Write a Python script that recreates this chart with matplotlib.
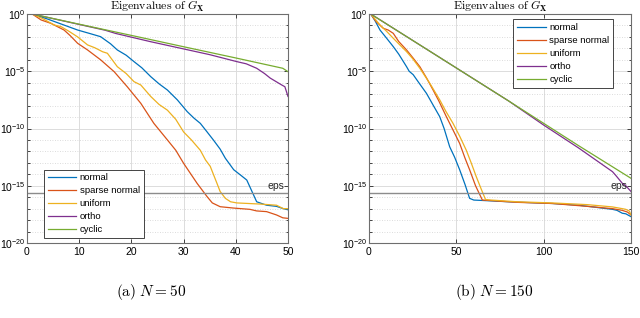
import numpy as np
import matplotlib
matplotlib.use("Agg")
import matplotlib.pyplot as plt
from matplotlib.ticker import FuncFormatter

plt.rcParams['font.family'] = ['Liberation Sans', 'DejaVu Sans']
plt.rcParams['mathtext.fontset'] = 'custom'
plt.rcParams['mathtext.rm'] = 'Liberation Sans'
plt.rcParams['mathtext.it'] = 'Liberation Sans:italic'
plt.rcParams['mathtext.bf'] = 'Liberation Sans:bold'

labels = ["normal", "sparse normal", "uniform", "ortho", "cyclic"]
colors = ["#0072BD", "#D95319", "#EDB120", "#7E2F8E", "#77AC30"]
eps_value = 2.22e-16

# ---- N = 50 (values given as log10 of eigenvalue) ----
a_normal_x = [1, 4, 7, 9.7, 12, 14.1, 16, 17.3, 19, 20.5, 22, 23.7, 25.3, 26.9, 28.8, 30.7, 32, 33.2,
              34.5, 35.7, 37, 38, 39.6, 41, 42.1, 43.4, 44, 45.9, 47.8, 49.1, 50]
a_normal_y = [0, -0.45, -0.95, -1.4, -1.7, -1.98, -2.6, -3.14, -3.6, -4.16, -4.7, -5.47, -6.1, -6.64,
              -7.5, -8.53, -9.1, -9.55, -10.3, -11.0, -11.8, -12.6, -13.6, -14.1, -14.5, -15.8, -16.4,
              -16.7, -16.8, -17.0, -17.1]
a_sparse_x = [1, 2.7, 4.6, 7.1, 8.3, 9.7, 11.6, 14.1, 16.7, 19.2, 21.8, 24.3, 26.9, 28.5, 30, 32.6,
              34.5, 35.5, 37, 39.6, 42.7, 44, 45.9, 47.8, 49, 50]
a_sparse_y = [0, -0.52, -0.82, -1.4, -1.9, -2.56, -3.14, -4.0, -5.04, -6.35, -7.8, -9.55, -11.0, -11.9,
              -13.04, -14.8, -15.95, -16.5, -16.83, -16.95, -17.06, -17.2, -17.26, -17.55, -17.8, -17.85]
a_uniform_x = [1, 3, 5.2, 6.5, 8, 9.7, 11.6, 13, 14.5, 15.4, 17.3, 19, 20.5, 21.8, 23.7, 25.3, 26.9,
               28.5, 30, 31.5, 33.2, 34.2, 35.1, 36.4, 37, 38, 39, 40.2, 44.7, 47.8, 49.1, 50]
a_uniform_y = [0, -0.4, -0.96, -1.1, -1.5, -2.0, -2.7, -2.95, -3.3, -3.43, -4.6, -5.2, -5.91, -6.2,
               -7.2, -7.9, -8.4, -9.2, -10.3, -11.0, -11.9, -12.75, -13.3, -14.8, -15.5, -16.1, -16.4,
               -16.5, -16.6, -16.7, -17.0, -17.0]
a_ortho_x = [1, 15, 17, 23.7, 30, 35, 40.2, 42, 44, 45.5, 46.6, 48.8, 49.4, 50]
a_ortho_y = [0, -1.42, -1.7, -2.42, -3.05, -3.55, -4.16, -4.35, -4.74, -5.2, -5.6, -6.2, -6.35, -7.2]
a_cyclic_x = [1, 10, 20, 30, 40, 49, 50]
a_cyclic_y = [0, -0.89, -1.87, -2.86, -3.84, -4.74, -5.04]

# ---- N = 150 ----
b_normal_x = [1, 3.5, 6.3, 10, 13.9, 17, 21.5, 23, 25.3, 29, 32.9, 36.5, 40.5, 43, 46.2, 49, 51.9, 55,
              57.6, 60, 67, 80, 105, 120, 139.4, 142, 145, 147, 150]
b_normal_y = [0, -0.6, -1.4, -2.1, -2.85, -3.5, -4.6, -5.0, -5.3, -6.1, -6.93, -7.9, -8.97, -10.0,
              -11.6, -12.5, -13.6, -14.9, -16.1, -16.25, -16.3, -16.4, -16.55, -16.7, -17.06, -17.15,
              -17.4, -17.45, -17.7]
b_sparse_x = [1, 4, 8.2, 11, 13.9, 17, 21.5, 25, 29.1, 33, 36.7, 40, 44.3, 48, 51.9, 55, 57.6, 61,
              64.9, 70, 85, 105, 125, 139.4, 145, 148, 150]
b_sparse_y = [0, -0.65, -1.25, -1.4, -1.69, -2.4, -3.14, -3.8, -4.6, -5.6, -6.64, -7.6, -8.97, -10.1,
              -11.3, -12.6, -13.6, -15.0, -16.25, -16.3, -16.45, -16.55, -16.8, -17.0, -17.15, -17.3,
              -17.55]
b_uniform_x = [1, 6.3, 10, 13.9, 17, 21.5, 25, 29.1, 35, 40.5, 44, 48.1, 52, 55.7, 58.5, 61.4, 64,
               66.7, 70, 85, 105, 125, 139.4, 145, 147, 149, 150]
b_uniform_y = [0, -0.96, -1.5, -2.12, -2.6, -3.29, -3.9, -4.74, -6.1, -7.5, -8.5, -9.55, -10.7, -11.9,
               -13.0, -14.2, -15.2, -16.2, -16.25, -16.4, -16.5, -16.65, -16.85, -17.0, -17.06, -17.2,
               -17.55]
b_ortho_x = [1, 40, 80, 100, 120, 139.4, 141.3, 145.1, 147, 150]
b_ortho_y = [0, -3.75, -7.6, -9.7, -11.7, -13.77, -14.1, -14.8, -15.0, -15.5]
b_cyclic_x = [1, 40, 80, 120, 150]
b_cyclic_y = [0, -3.75, -7.6, -11.5, -14.35]

panels = [
    dict(xs=[a_normal_x, a_sparse_x, a_uniform_x, a_ortho_x, a_cyclic_x],
         ys=[a_normal_y, a_sparse_y, a_uniform_y, a_ortho_y, a_cyclic_y],
         xlim=(0, 50), xticks=[0, 10, 20, 30, 40, 50], legloc="lower left",
         anchor=(0.065, 0.022), caption=r"$\mathrm{(a)}\ N = 50$"),
    dict(xs=[b_normal_x, b_sparse_x, b_uniform_x, b_ortho_x, b_cyclic_x],
         ys=[b_normal_y, b_sparse_y, b_uniform_y, b_ortho_y, b_cyclic_y],
         xlim=(0, 150), xticks=[0, 50, 100, 150], legloc="upper right",
         anchor=(0.932, 0.977), caption=r"$\mathrm{(b)}\ N = 150$"),
]

fig = plt.figure(figsize=(6.4, 3.18), dpi=100)
positions = [[27 / 640, 75 / 318, 261 / 640, 229 / 318],
             [369 / 640, 75 / 318, 262 / 640, 229 / 318]]
cap_x = [151 / 640, 494 / 640]

def ylab(v, pos):
    e = int(round(np.log10(v)))
    return r"$\mathregular{10^{%d}}$" % e

for i, p in enumerate(panels):
    ax = fig.add_axes(positions[i])
    for xs, ys, lab, c in zip(p["xs"], p["ys"], labels, colors):
        ax.plot(xs, 10.0 ** np.array(ys), color=c, lw=0.9, label=lab)
    ax.set_yscale("log")
    ax.set_ylim(1e-20, 1e0)
    ax.set_xlim(*p["xlim"])
    ax.set_xticks(p["xticks"])
    ax.set_yticks([10.0 ** k for k in range(-20, 1, 5)])
    ax.set_yticks([10.0 ** k for k in range(-20, 1)], minor=True)
    ax.yaxis.set_major_formatter(FuncFormatter(ylab))
    ax.yaxis.set_minor_formatter(FuncFormatter(lambda v, pos: ""))
    ax.grid(True, which="major", color="#dcdcdc", lw=0.7, ls="-")
    ax.grid(True, which="minor", axis="y", color="#d0d0d0", lw=0.6, ls=(0, (1, 2)))
    ax.set_axisbelow(True)
    ax.tick_params(which="both", direction="in", top=True, right=True, labelsize=7.5,
                   color="#262626", width=0.6, pad=3)
    ax.tick_params(axis="y", which="major", pad=1.2)
    ax.tick_params(which="major", length=3)
    ax.tick_params(which="minor", length=1.8)
    for s in ax.spines.values():
        s.set_color("#6e6e6e")
        s.set_linewidth(0.8)
    ax.axhline(eps_value, color="#8c8c8c", lw=1.0)
    ax.text(p["xlim"][1] - 0.012 * (p["xlim"][1] - p["xlim"][0]), eps_value * 1.6, "eps",
            ha="right", va="bottom", fontsize=7.5, color="#262626")
    ax.set_title(r"$\mathrm{Eigenvalues\ of}\ G_{\mathbf{X}}$", fontsize=8.5, pad=1.5,
                 math_fontfamily="cm")
    leg = ax.legend(loc=p["legloc"], fontsize=6.8, handlelength=3.0, handletextpad=0.4,
                    labelspacing=0.42, borderpad=0.4, borderaxespad=0, fancybox=False,
                    framealpha=1, edgecolor="#262626", bbox_to_anchor=p["anchor"])
    leg.get_frame().set_linewidth(0.6)
    fig.text(cap_x[i], 26 / 318, p["caption"], ha="center", va="center", fontsize=11,
             math_fontfamily="cm")

fig.savefig("out.png", dpi=100)
